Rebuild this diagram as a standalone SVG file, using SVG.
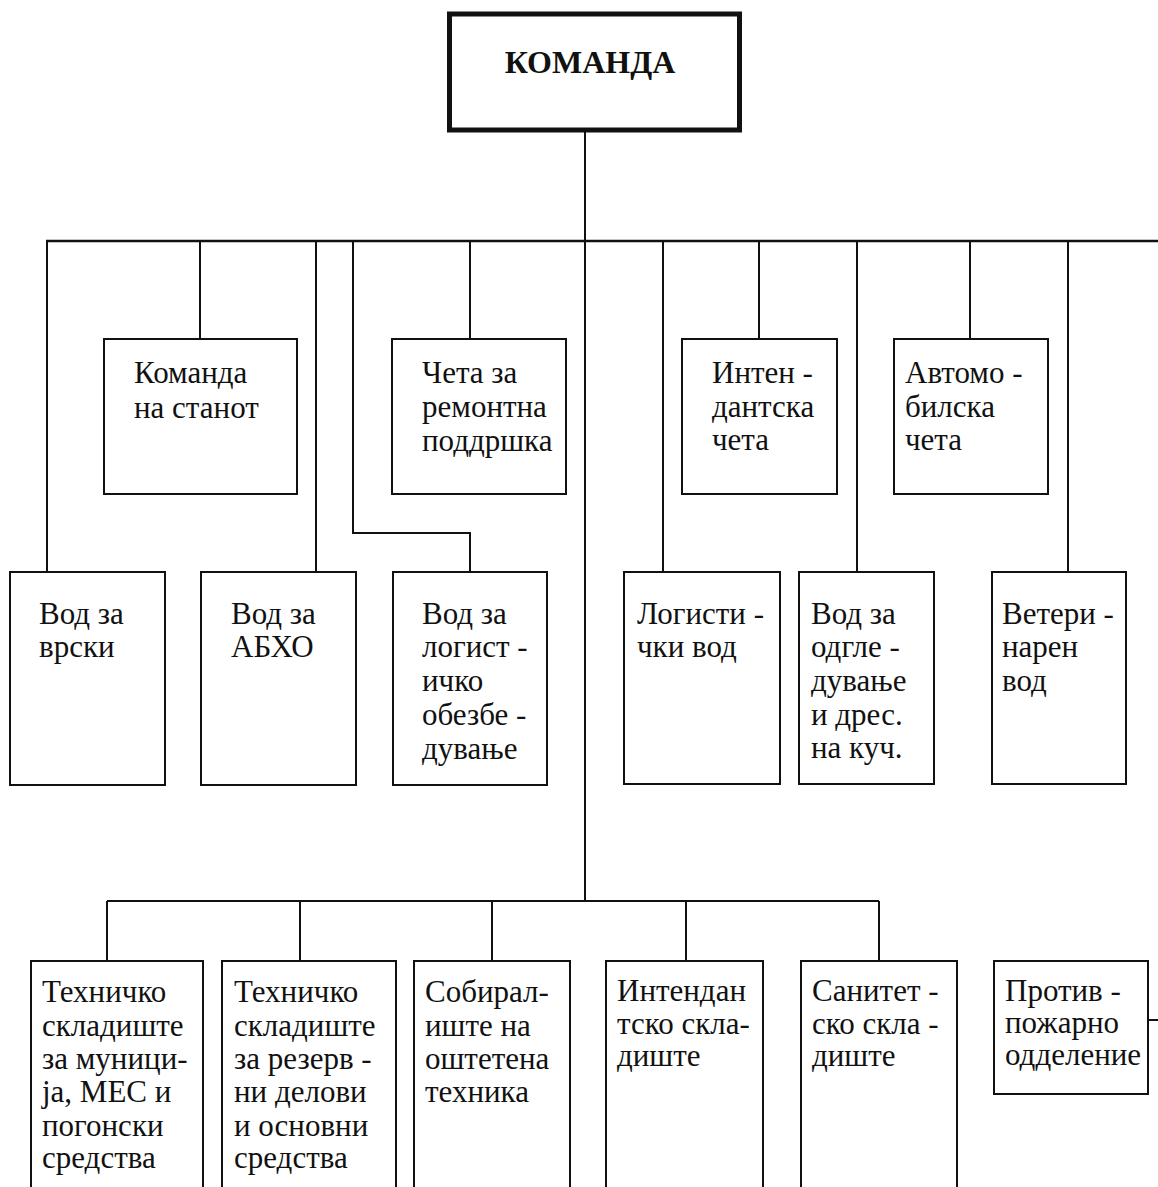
<svg xmlns="http://www.w3.org/2000/svg" width="1158" height="1187" viewBox="0 0 1158 1187">
<style>
.b{fill:#fff;stroke:#111;stroke-width:2}
.t{font-family:"Liberation Serif","Times New Roman",serif;font-size:31px;fill:#111}
.c{fill:none;stroke:#111;stroke-width:2}
</style>
<rect width="1158" height="1187" fill="#fff"/>
<g id="connectors">
<path class="c" d="M585 124V901"/>
<path class="c" d="M46 241H1158" style="stroke-width:2.6"/>
<path class="c" d="M47 241V572M200 241V339M316 241V572M353 241V533H470V572M470 241V339M663 241V572M759 241V339M857 241V572M970 241V339M1068 241V572"/>
<path class="c" d="M107 901H879M107 901V961M300 901V961M492 901V961M686 901V961M879 901V961"/>
<path class="c" d="M1148 1020H1158"/>
</g>
<g id="komanda">
<rect x="449.5" y="14" width="290" height="116" fill="#fff" stroke="#111" stroke-width="5"/>
<text x="590" y="73" text-anchor="middle" style="font-family:'Liberation Serif','Times New Roman',serif;font-size:32px;font-weight:bold;fill:#111">КОМАНДА</text>
</g>
<g id="komanda-stanot"><rect class="b" x="104" y="339" width="193" height="155"/><text class="t" x="134" y="383">Команда</text><text class="t" x="134" y="418">на станот</text></g>
<g id="ceta-remont"><rect class="b" x="392" y="339" width="174" height="155"/><text class="t" x="422" y="383">Чета за</text><text class="t" x="422" y="417">ремонтна</text><text class="t" x="422" y="451">поддршка</text></g>
<g id="intendantska-ceta"><rect class="b" x="682" y="339" width="155" height="155"/><text class="t" x="712" y="383">Интен -</text><text class="t" x="712" y="417">дантска</text><text class="t" x="712" y="450">чета</text></g>
<g id="avtomobilska-ceta"><rect class="b" x="894" y="339" width="154" height="155"/><text class="t" x="905" y="383">Автомо -</text><text class="t" x="905" y="417">билска</text><text class="t" x="905" y="450">чета</text></g>
<g id="vod-vrski"><rect class="b" x="10" y="572" width="155" height="213"/><text class="t" x="39" y="624">Вод за</text><text class="t" x="39" y="657">врски</text></g>
<g id="vod-abho"><rect class="b" x="201" y="572" width="155" height="213"/><text class="t" x="231" y="624">Вод за</text><text class="t" x="231" y="657">АБХО</text></g>
<g id="vod-logisticko"><rect class="b" x="393" y="572" width="154" height="213"/><text class="t" x="422" y="624">Вод за</text><text class="t" x="422" y="657">логист -</text><text class="t" x="422" y="691">ичко</text><text class="t" x="422" y="725">обезбе -</text><text class="t" x="422" y="759">дување</text></g>
<g id="logisticki-vod"><rect class="b" x="624" y="572" width="156" height="212"/><text class="t" x="637" y="624">Логисти -</text><text class="t" x="637" y="657">чки вод</text></g>
<g id="vod-odgleduvanje"><rect class="b" x="799" y="572" width="135" height="212"/><text class="t" x="811" y="624">Вод за</text><text class="t" x="811" y="657">одгле -</text><text class="t" x="811" y="691">дување</text><text class="t" x="811" y="725">и дрес.</text><text class="t" x="811" y="758">на куч.</text></g>
<g id="veterinaren-vod"><rect class="b" x="992" y="572" width="134" height="212"/><text class="t" x="1002" y="624">Ветери -</text><text class="t" x="1002" y="657">нарен</text><text class="t" x="1002" y="691">вод</text></g>
<g id="tehnicko-municija"><path class="b" d="M31 1190V961H203V1190"/><text class="t" x="42" y="1002">Техничко</text><text class="t" x="42" y="1036">складиште</text><text class="t" x="42" y="1069">за муници-</text><text class="t" x="42" y="1102">ја, МЕС и</text><text class="t" x="42" y="1136">погонски</text><text class="t" x="42" y="1168">средства</text></g>
<g id="tehnicko-rezervni"><path class="b" d="M222 1190V961H396V1190"/><text class="t" x="234" y="1002">Техничко</text><text class="t" x="234" y="1036">складиште</text><text class="t" x="234" y="1069">за резерв -</text><text class="t" x="234" y="1102">ни делови</text><text class="t" x="234" y="1136">и основни</text><text class="t" x="234" y="1168">средства</text></g>
<g id="sobiraliste"><path class="b" d="M414 1190V961H570V1190"/><text class="t" x="425" y="1002">Собирал-</text><text class="t" x="425" y="1036">иште на</text><text class="t" x="425" y="1069">оштетена</text><text class="t" x="425" y="1102">техника</text></g>
<g id="intendantsko-skladiste"><path class="b" d="M606 1190V961H763V1190"/><text class="t" x="617" y="1001">Интендан</text><text class="t" x="617" y="1034">тско скла-</text><text class="t" x="617" y="1066">диште</text></g>
<g id="sanitetsko-skladiste"><path class="b" d="M801 1190V961H957V1190"/><text class="t" x="812" y="1001">Санитет -</text><text class="t" x="812" y="1034">ско скла -</text><text class="t" x="812" y="1066">диште</text></g>
<g id="protivpozarno"><rect class="b" x="994" y="961" width="154" height="133"/><text class="t" x="1005" y="1001">Против -</text><text class="t" x="1005" y="1033">пожарно</text><text class="t" x="1005" y="1065">одделение</text></g>
</svg>
